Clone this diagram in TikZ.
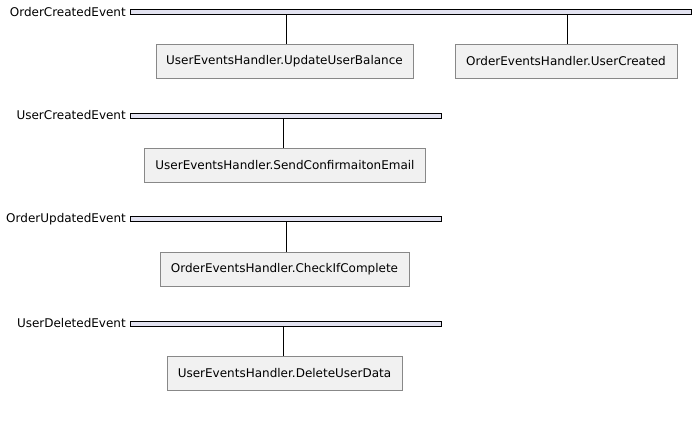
\documentclass[tikz,border=0pt]{standalone}
\usepackage{fontspec}
\setmainfont{DejaVu Sans}
\begin{document}
\begin{tikzpicture}[x=1pt,y=-1pt,
  evlabel/.style={anchor=east,inner sep=0pt,font=\fontsize{12}{14}\selectfont},
  evbar/.style={draw=black,fill=barfill,line width=0.8pt,minimum height=4.5pt,inner sep=0pt},
  handler/.style={draw=boxline,fill=boxfill,line width=0.8pt,minimum height=34pt,inner sep=0pt,font=\fontsize{12}{14}\selectfont},
  conn/.style={draw=black,line width=0.8pt}]
\definecolor{barfill}{HTML}{E2E2F0}
\definecolor{boxfill}{HTML}{F1F1F1}
\definecolor{boxline}{HTML}{888888}
\fill[white] (0,0) rectangle (698,432);
\useasboundingbox (0,0) rectangle (698,432);
% Event 1
\node[evlabel] (l1) at (126,12) {OrderCreatedEvent};
\node[evbar,minimum width=561pt] (b1) at (410.5,11.75) {};
\node[handler,minimum width=257pt] (h1a) at (284.5,61) {UserEventsHandler.UpdateUserBalance};
\node[handler,minimum width=222pt] (h1b) at (566,61) {OrderEventsHandler.UserCreated};
\draw[conn] (b1.south -| 286.5,0) -- (286.5,0 |- h1a.north);
\draw[conn] (b1.south -| 567.5,0) -- (567.5,0 |- h1b.north);
% Event 2
\node[evlabel] (l2) at (126,115.5) {UserCreatedEvent};
\node[evbar,minimum width=311pt] (b2) at (285.5,115.75) {};
\node[handler,minimum width=281pt] (h2) at (285,165) {UserEventsHandler.SendConfirmaitonEmail};
\draw[conn] (b2.south -| 283,0) -- (283,0 |- h2.north);
% Event 3
\node[evlabel] (l3) at (126,219) {OrderUpdatedEvent};
\node[evbar,minimum width=311pt] (b3) at (285.5,218.75) {};
\node[handler,minimum width=249pt] (h3) at (284.5,269) {OrderEventsHandler.CheckIfComplete};
\draw[conn] (b3.south -| 286.5,0) -- (286.5,0 |- h3.north);
% Event 4
\node[evlabel] (l4) at (126,323.5) {UserDeletedEvent};
\node[evbar,minimum width=311pt] (b4) at (285.5,323.75) {};
\node[handler,minimum width=235pt] (h4) at (284.5,373) {UserEventsHandler.DeleteUserData};
\draw[conn] (b4.south -| 283,0) -- (283,0 |- h4.north);
\end{tikzpicture}
\end{document}
